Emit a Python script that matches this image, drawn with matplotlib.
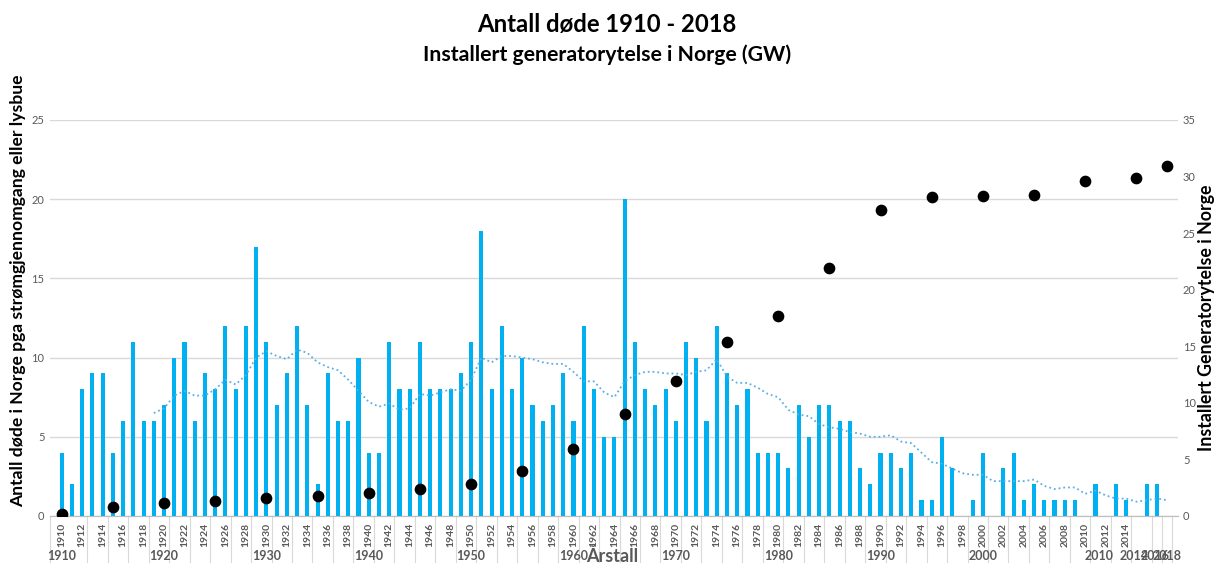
import numpy as np
import pandas as pd
import matplotlib
matplotlib.use("Agg")
from matplotlib import pyplot as plt
from matplotlib import transforms

# antall døde per år 1910-2018 (lest av figuren)
years = list(range(1910, 2019))
deaths = [4, 2, 8, 9, 9, 4, 6, 11, 6, 6,
          7, 10, 11, 6, 9, 8, 12, 8, 12, 17,
          11, 7, 9, 12, 7, 2, 9, 6, 6, 10,
          4, 4, 11, 8, 8, 11, 8, 8, 8, 9,
          11, 18, 8, 12, 8, 10, 7, 6, 7, 9,
          6, 12, 8, 5, 5, 20, 11, 8, 7, 8,
          6, 11, 10, 6, 12, 9, 7, 8, 4, 4,
          4, 3, 7, 5, 7, 7, 6, 6, 3, 2,
          4, 4, 3, 4, 1, 1, 5, 3, 0, 1,
          4, 0, 3, 4, 1, 2, 1, 1, 1, 1,
          0, 2, 0, 2, 1, 0, 2, 2, 0]

# installert generatorytelse (GW)
gw_years = [1910, 1915, 1920, 1925, 1930, 1935, 1940, 1945, 1950, 1955, 1960, 1965,
            1970, 1975, 1980, 1985, 1990, 1995, 2000, 2005, 2010, 2015, 2018]
gw = [0.2, 0.8, 1.15, 1.35, 1.56, 1.74, 2.06, 2.39, 2.83, 3.98, 5.95, 8.99,
      11.96, 15.4, 17.65, 21.96, 27.05, 28.2, 28.3, 28.4, 29.6, 29.9, 30.9]

inner_labels = [str(y) for y in range(1910, 2015, 2)]
outer_labels = ["1910", "1920", "1930", "1940", "1950", "1960", "1970", "1980",
                "1990", "2000", "2010", "2014", "2016", "2018"]
outer_pos = [1910, 1920, 1930, 1940, 1950, 1960, 1970, 1980, 1990, 2000,
             2011.4, 2014.8, 2016.8, 2018]

# glidende gjennomsnitt over 10 år (Excel trendlinje)
ma = pd.Series(deaths, index=years).rolling(10).mean()

gray = "#595959"
font = ["Lato", "DejaVu Sans"]
plt.rcParams["font.family"] = font

fig = plt.figure(figsize=(12.14, 5.63), dpi=100)
ax = fig.add_axes([0.0412, 0.0835, 0.9292, 0.7034])
ax2 = ax.twinx()

ax.bar(years, deaths, width=0.4, color="#00B0F0", zorder=3)
ax.plot(ma.index, ma.values, linestyle=":", color="#5AAFE6", lw=1.3, zorder=4)
ax2.scatter(gw_years, gw, s=55, color="black", zorder=5)

ax.set_xlim(1908.86, 2019.07)
ax.set_ylim(0, 25)
ax2.set_ylim(0, 35)
ax.set_yticks(range(0, 26, 5))
ax2.set_yticks(range(0, 36, 5))
ax.grid(axis="y", color="#D9D9D9", lw=1, zorder=0)
ax.set_axisbelow(True)

for a in (ax, ax2):
    for s in ("top", "right", "left"):
        a.spines[s].set_visible(False)
    a.spines["bottom"].set_color("#BFBFBF")
    a.tick_params(axis="y", length=0, labelsize=8, labelcolor=gray, pad=4)
ax2.tick_params(axis="y", pad=3.5)

ax.set_xticks(list(range(1910, 2015, 2)))
ax.set_xticklabels(inner_labels, rotation=90, fontsize=7.5, fontweight="bold",
                   color=gray, va="top")
ax.tick_params(axis="x", length=0, pad=5)

trans = transforms.blended_transform_factory(ax.transData, ax.transAxes)
sep = list(np.arange(1912.5, 2015, 2)) + [2016.5, 2017.5, 2018.5]
ax.vlines([1908.86] + sep, -0.12, 0, transform=trans, color="#D9D9D9", lw=0.8,
          clip_on=False)
for lab, x in zip(outer_labels, outer_pos):
    ax.text(x, -0.1, lab, transform=trans, ha="center", va="center", fontsize=9,
            fontweight="bold", color=gray)
ax.text(1963.8, -0.1, "Årstall", transform=trans, ha="center", va="center",
        fontsize=13, fontweight="bold", color=gray)

ax.set_ylabel("Antall døde i Norge pga strømgjennomgang eller lysbue", fontsize=12.6,
              fontweight="bold", color="black")
ax.yaxis.set_label_coords(-0.0213, 0.568)
ax2.set_ylabel("Installert Generatorytelse i Norge", fontsize=12.8,
               fontweight="bold", color="black")
ax2.yaxis.set_label_coords(1.0175, 0.5)

fig.text(0.5, 0.957, "Antall døde 1910 - 2018", ha="center", va="center",
         fontsize=17.2, fontweight="bold")
fig.text(0.5, 0.903, "Installert generatorytelse i Norge (GW)", ha="center",
         va="center", fontsize=15.3, fontweight="bold")

fig.savefig("out.png", dpi=100)
